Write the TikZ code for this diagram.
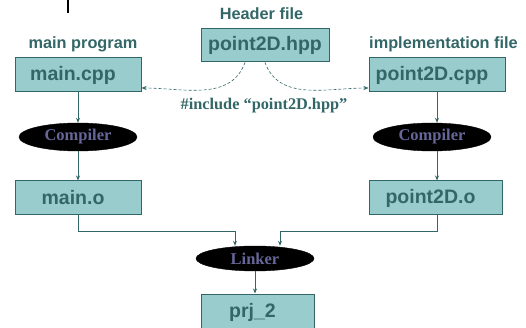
\documentclass[tikz,border=0pt]{standalone}
\usepackage{fontspec}
\setmainfont{Liberation Serif}
\setsansfont{Liberation Sans}
\usetikzlibrary{positioning, shapes.geometric, arrows.meta, calc}
\definecolor{tealfill}{RGB}{153,204,204}
\definecolor{tealdark}{RGB}{51,102,102}
\definecolor{toolblue}{RGB}{102,102,153}
\tikzset{
	filebox/.style={draw=tealdark, line width=1pt, fill=tealfill, text=tealdark, inner sep=0pt,
		font=\sffamily\bfseries\fontsize{19.5}{20}\selectfont}
}
\tikzset{
	toolnode/.style={ellipse, draw=black, fill=black, text=toolblue, inner sep=0pt,
		minimum width=118pt, minimum height=28pt, font=\rmfamily\bfseries\fontsize{16.5}{18}\selectfont}
}
\tikzset{
	labeltext/.style={anchor=base, text=tealdark, font=\sffamily\bfseries\fontsize{16.3}{18}\selectfont}
}
\tikzset{
	flow/.style={draw=tealdark, line width=0.8pt, -{Stealth[length=5pt,width=4pt]}}
}
\newcommand{\lft}[1]{#1\kern10pt}

\begin{document}
\begin{tikzpicture}[x=1pt, y=-1pt]
      \useasboundingbox (0,0) rectangle (526,328);
      \draw[line width=2.8pt] (68,0) -- (68,13);
      % files
      \node[filebox, minimum width=128pt, minimum height=33pt] (hpp) at (265,45.5) {point2D.hpp};
      \node[filebox, minimum width=126pt, minimum height=34pt] (maincpp) at (78,75) {\lft{main.cpp}};
      \node[filebox, minimum width=136pt, minimum height=34pt] (ptcpp) at (437,75) {\lft{point2D.cpp}};
      \node[filebox, minimum width=126pt, minimum height=34pt] (maino) at (78,198) {\lft{main.o}};
      \node[filebox, minimum width=133pt, minimum height=34pt] (pto) at (435.5,198) {\lft{point2D.o}};
      \node[filebox, minimum width=113pt, minimum height=36pt] (prj) at (257.5,312) {\lft{prj\_2}};
      % tools
      \node[toolnode] (compa) at (78,137) {Compiler};
      \node[toolnode] (compb) at (432,137) {Compiler};
      \node[toolnode, minimum height=25pt] (linker) at (255,258.5) {Linker};
      % labels
      \node[labeltext] (hdrlbl) at (261.5,20) {Header file};
      \node[labeltext] (mainlbl) at (83,49) {main program};
      \node[labeltext] (impllbl) at (443.5,49) {implementation file};
      \node[anchor=base, text=tealdark, font=\rmfamily\bfseries\fontsize{16.3}{18}\selectfont] (inclbl) at (264,110) {\#include “point2D.hpp”};
      % include
      \draw[flow, line width=0.6pt, dash pattern=on 3pt off 2pt] ([xshift=-20pt]hpp.south) to[out=-110, in=0] ([yshift=-13pt]maincpp.east);
      \draw[flow, line width=0.6pt, dash pattern=on 3pt off 2pt] (hpp.south) to[out=-70, in=180] ([yshift=-13pt]ptcpp.west);
      % compile and link
      \draw[flow] (maincpp) -- (compa);
      \draw[flow] (compa) -- (maino);
      \draw[flow] (ptcpp.south) -- (ptcpp.south |- compb.north);
      \draw[flow] (ptcpp.south |- compb.south) -- (ptcpp.south |- pto.north);
      \draw[flow] (maino.south) -- ++(0,16) -| ([xshift=-20pt]linker.north);
      \draw[flow] (ptcpp.south |- pto.south) -- ++(0,16) -| ([xshift=25pt]linker.north);
      \draw[flow] (linker) -- (linker |- prj.north);
    \end{tikzpicture}
\end{document}
